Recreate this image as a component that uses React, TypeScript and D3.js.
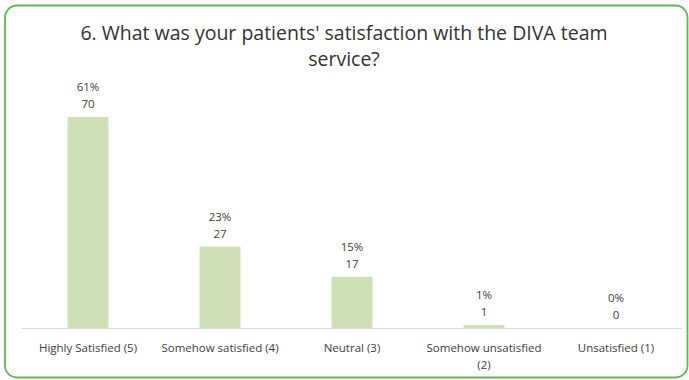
import React from "react";
import * as d3 from "d3";

const categories: string[][] = [
  ["Highly Satisfied (5)"],
  ["Somehow satisfied (4)"],
  ["Neutral (3)"],
  ["Somehow unsatisfied", "(2)"],
  ["Unsatisfied (1)"],
];
const counts: number[] = [70, 27, 17, 1, 0];
const percents: string[] = ["61%", "23%", "15%", "1%", "0%"];
const titleLines: string[] = [
  "6. What was your patients' satisfaction with the DIVA team",
  "service?",
];

const W = 689;
const H = 380;
const FONT = "'Open Sans', 'Noto Sans', sans-serif";

export default function App() {
  const left = 22;
  const right = 682;
  const baseY = 328;
  const x = d3
    .scaleBand<number>()
    .domain(counts.map((_, i) => i))
    .range([left, right])
    .paddingInner(0.69)
    .paddingOuter(0.345);
  const y = d3.scaleLinear().domain([0, 70]).range([baseY, 117]);

  return (
    <svg
      width={W}
      height={H}
      style={{ position: "absolute", left: 0, top: 0, display: "block", background: "#fff" }}
    >
      <rect x={5} y={5.5} width={682.5} height={372} rx={12} ry={12} fill="#fff" stroke="#62b653" strokeWidth={1.8} />
      {titleLines.map((t, i) => (
        <text
          key={i}
          x={344}
          y={40 + i * 26}
          textAnchor="middle"
          fontFamily={FONT}
          fontSize={19.5}
          fill="#333"
        >
          {t}
        </text>
      ))}
      <line x1={left} x2={right} y1={baseY + 0.5} y2={baseY + 0.5} stroke="#d9d9d9" strokeWidth={1} />
      {counts.map((v, i) => {
        const bx = x(i)!;
        const bw = x.bandwidth();
        const top = y(v);
        const cx = bx + bw / 2;
        return (
          <g key={i}>
            <rect x={bx} y={top} width={bw} height={baseY - top} fill="#cfe0b6" />
            <text x={cx} y={top - 26} textAnchor="middle" fontFamily={FONT} fontSize={11.5} fill="#404040">
              {percents[i]}
            </text>
            <text x={cx} y={top - 9} textAnchor="middle" fontFamily={FONT} fontSize={11.5} fill="#404040">
              {v}
            </text>
            {categories[i].map((l, j) => (
              <text
                key={j}
                x={cx}
                y={352 + j * 17}
                textAnchor="middle"
                fontFamily={FONT}
                fontSize={11.5}
                fill="#404040"
              >
                {l}
              </text>
            ))}
          </g>
        );
      })}
    </svg>
  );
}
